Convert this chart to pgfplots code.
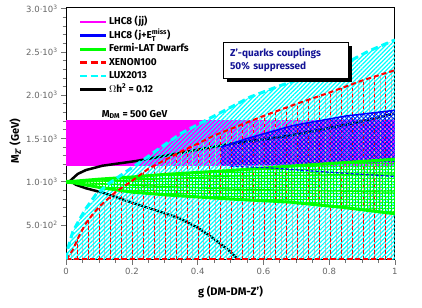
\documentclass[border=0pt]{standalone}
\usepackage{fontspec}
\setmainfont{Fira Sans}
\newfontfamily\tickfont{DejaVu Sans}
\usepackage{amsmath}
\usepackage{pgfplots}
\pgfplotsset{compat=1.18}
\usetikzlibrary{patterns,patterns.meta,shadows}
\definecolor{boxblue}{RGB}{20,20,150}
\definecolor{pinkred}{RGB}{255,165,165}
\definecolor{mag}{RGB}{255,0,255}
\definecolor{cya}{RGB}{0,255,255}
\definecolor{grn}{RGB}{0,255,0}
\definecolor{rd}{RGB}{255,0,0}
\definecolor{bl}{RGB}{0,0,255}
\pgfdeclarepatternformonly{vdash}{\pgfqpoint{-1pt}{-1pt}}{\pgfqpoint{12pt}{7pt}}{\pgfqpoint{11pt}{6pt}}{%
  \pgfsetlinewidth{0.9pt}%
  \pgfpathmoveto{\pgfqpoint{0pt}{0pt}}%
  \pgfpathlineto{\pgfqpoint{0pt}{3.5pt}}%
  \pgfusepath{stroke}}

% LUX2013
\pgfplotstableread{
g M
0 100
0.003 200
0.02 420
0.04 560
0.06 690
0.09 850
0.13 980
0.18 1110
0.23 1240
0.3 1430
0.35 1560
0.4 1660
0.45 1760
0.5 1860
0.56 1980
0.65 2110
0.713 2190
0.8 2300
0.855 2380
0.92 2510
1 2640
}\lux
% XENON100
\pgfplotstableread{
g M
0 100
0.02 210
0.04 380
0.06 520
0.08 620
0.1 710
0.15 880
0.2 1010
0.25 1150
0.3 1250
0.35 1350
0.4 1440
0.45 1535
0.5 1610
0.6 1760
0.7 1900
0.8 2030
0.9 2170
1 2290
}\xenon
% Omega h^2 = 0.12
\pgfplotstableread{
g M
1 1790
0.9 1700
0.8 1620
0.69 1540
0.6 1490
0.5 1440
0.4 1370
0.3 1300
0.213 1240
0.11 1185
0.06 1135
0.035 1090
0.012 1010
0.03 965
0.06 925
0.11 875
0.2 760
0.3 635
0.346 575
0.4 470
0.45 340
0.5 190
0.523 100
}\relic
% Fermi-LAT region (upper edge then lower edge)
\pgfplotstableread{
g M
0 1005
0.02 1005
0.1 1030
0.2 1055
0.3 1085
0.5 1130
0.68 1180
0.8 1210
1 1260
1 630
0.85 700
0.68 765
0.5 800
0.315 845
0.2 880
0.1 935
0.02 990
0 995
}\fermiregion
\pgfplotstableread{
g M
0 1005
0.02 1005
0.1 1030
0.2 1055
0.3 1085
0.5 1130
0.68 1180
0.8 1210
1 1260
}\fermiA
\pgfplotstableread{
g M
0.02 1000
0.2 1020
0.5 1065
1 1090
}\fermiB
\pgfplotstableread{
g M
0.02 995
0.2 960
0.5 915
1 880
}\fermiC
\pgfplotstableread{
g M
0 995
0.02 990
0.1 935
0.2 880
0.315 845
0.5 800
0.68 765
0.85 700
1 630
}\fermiD
% LHC8 j+MET region
\pgfplotstableread{
g M
0.47 1185
0.47 1400
0.55 1500
0.69 1650
0.85 1760
1 1826
1 1230
0.7 1200
}\monoregion
\pgfplotstableread{
g M
0.47 1400
0.55 1500
0.69 1650
0.85 1760
1 1826
}\monotop
\pgfplotstableread{
g M
0.5 1180
0.62 1160
0.8 1110
1 1062
}\monolow

\begin{document}
\begin{tikzpicture}
\begin{axis}[
  scale only axis, width=328pt, height=252pt,
  xmin=0, xmax=1, ymin=100, ymax=3020,
  axis line style={line width=1pt},
  tick pos=left, tick align=outside,
  xtick={0,0.2,0.4,0.6,0.8,1}, xticklabels={0,0.2,0.4,0.6,0.8,1},
  minor x tick num=3,
  ytick={500,1000,1500,2000,2500,3000},
  yticklabels={5.0·10\textsuperscript{2},1.0·10\textsuperscript{3},1.5·10\textsuperscript{3},2.0·10\textsuperscript{3},2.5·10\textsuperscript{3},3.0·10\textsuperscript{3}},
  minor y tick num=4,
  major tick length=5pt, minor tick length=3.5pt,
  every tick/.style={black!55, line width=0.8pt},
  tick label style={font=\tickfont\fontsize{8.5}{10}\selectfont, text=black!60},
  xlabel={g (DM-DM-Z')},
  ylabel={M$_{\text{Z'}}$ (GeV)},
  label style={font=\bfseries\fontsize{11}{13}\selectfont},
  xlabel style={at={(axis description cs:0.5,-0.13)}, anchor=center},
  ylabel style={at={(axis description cs:-0.155,0.47)}, anchor=center},
  legend image code/.code={\draw[#1] (0pt,0pt) -- (26pt,0pt);},
  legend style={at={(rel axis cs:0.037,0.968)}, anchor=north west, draw=none, fill=none,
    font=\bfseries\fontsize{10}{12}\selectfont, row sep=0pt, inner sep=0pt,
    nodes={text height=8pt, text depth=2.5pt, inner sep=1.5pt}},
  legend cell align=left,
]
% magenta LHC8 (jj)
\addplot[draw=none, fill=mag, forget plot] coordinates {(0,1182) (1,1182) (1,1718) (0,1718)};
% relic line under the hatching
\addplot[black, line width=2.5pt, forget plot] table {\relic};
% XENON100 pink stripes
\addplot[draw=none, pattern={Lines[angle=90,distance=5.5pt,line width=1pt]}, pattern color=pinkred, forget plot] table {\xenon} \closedcycle;
% LUX2013 cyan hatching
\addplot[draw=none, pattern={Lines[angle=45,distance=3pt,line width=1.2pt]}, pattern color=cya, forget plot] table {\lux} \closedcycle;
% XENON100 red dashed verticals
\addplot[draw=none, pattern=vdash, pattern color=rd, forget plot] table {\xenon} \closedcycle;
% Fermi-LAT grid
\addplot[draw=none, pattern={Hatch[angle=0,distance=3pt,line width=0.6pt]}, pattern color=grn, forget plot] table {\fermiregion};
% LHC8 j+MET crosshatch
\addplot[draw=none, pattern={Hatch[angle=45,distance=3pt,line width=0.7pt]}, pattern color=bl, forget plot] table {\monoregion};
% boundary lines
\addplot[grn, line width=3pt, forget plot] table {\fermiA};
\addplot[grn, line width=1.2pt, forget plot] table {\fermiB};
\addplot[grn, line width=1.2pt, forget plot] table {\fermiC};
\addplot[grn, line width=3pt, forget plot] table {\fermiD};
\addplot[bl, line width=1.5pt, forget plot] table {\monotop};
\addplot[bl, line width=1.2pt, dash pattern=on 3pt off 2pt, forget plot] table {\monolow};
\addplot[rd, line width=2pt, dash pattern=on 5pt off 3pt, forget plot] table {\xenon};
\addplot[rd, line width=2pt, dash pattern=on 5pt off 3pt, forget plot] coordinates {(0,112) (1,112)};
\addplot[cya, line width=3pt, dash pattern=on 7pt off 4pt, forget plot] table {\lux};

\node[font=\bfseries\fontsize{10}{12}\selectfont] at (axis cs:0.208,1779) {M$_{\text{DM}}$ = 500 GeV};
\node[draw=black, fill=white, line width=0.8pt, anchor=north west,
  drop shadow={shadow xshift=4pt, shadow yshift=-4pt, opacity=1, fill=black},
  minimum width=125pt, minimum height=36pt, text width=111pt, inner xsep=7pt,
  align=left, text=boxblue, font=\bfseries\fontsize{10}{13.5}\selectfont]
  at (axis cs:0.476,2620) {Z'-quarks couplings\\50\% suppressed};

\addlegendimage{mag, line width=2.5pt}
\addlegendentry{LHC8 (jj)}
\addlegendimage{bl, line width=2.5pt}
\addlegendentry{LHC8 (j+E$_{\text{T}}^{\text{miss}}$)}
\addlegendimage{grn, line width=3pt}
\addlegendentry{Fermi-LAT Dwarfs}
\addlegendimage{rd, line width=2.5pt, dash pattern=on 7pt off 3.5pt}
\addlegendentry{XENON100}
\addlegendimage{cya, line width=2.5pt, dash pattern=on 7pt off 3.5pt}
\addlegendentry{LUX2013}
\addlegendimage{black, line width=2.5pt}
\addlegendentry{$\Omega$h$^{\text{2}}$ = 0.12}
\end{axis}
\path (current axis.south west) ++(-66pt,-48pt) coordinate (bl);
\path (current axis.north east) ++(27pt,7pt) coordinate (tr);
\pgfresetboundingbox
\path[use as bounding box] (bl) rectangle (tr);
\end{tikzpicture}
\end{document}
